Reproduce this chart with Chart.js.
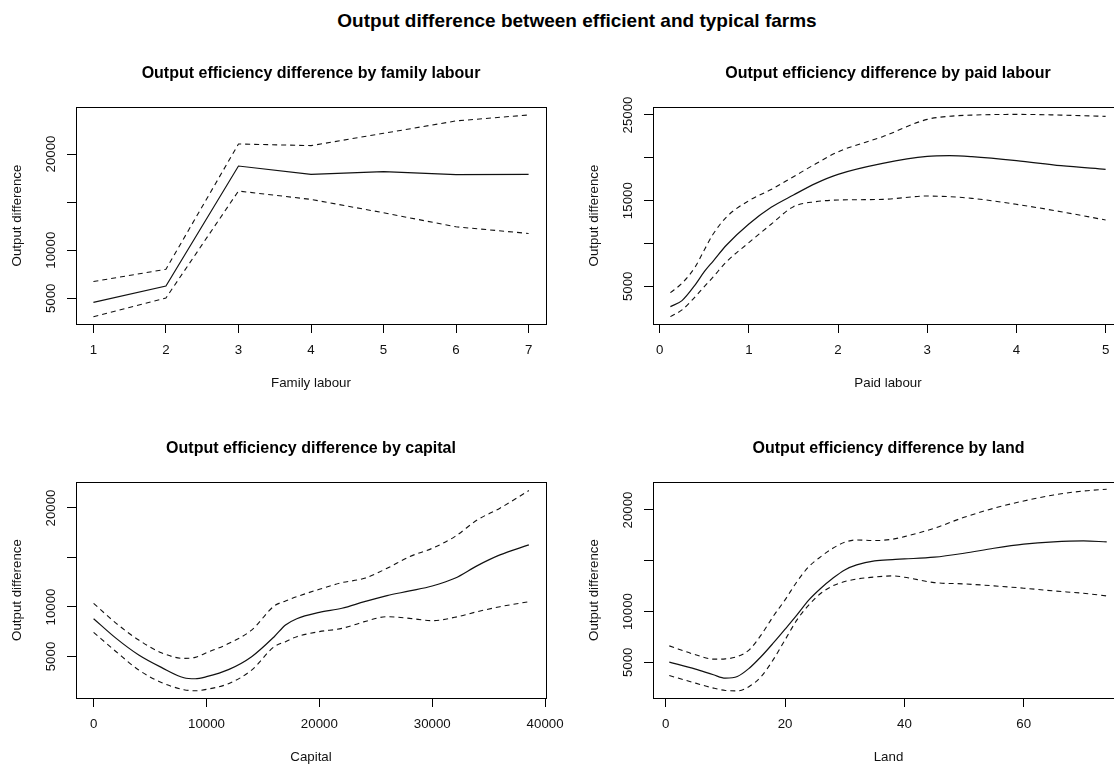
<!DOCTYPE html>
<html>
<head>
<meta charset="utf-8">
<script src="https://cdn.jsdelivr.net/npm/chart.js@4"></script>
<style>
	html, body { margin: 0; padding: 0; background: #fff; overflow: hidden; width: 1114px; height: 765px; }
	canvas { position: absolute; }
	#mainTitle {
		position: absolute; left: 577px; top: 10px; transform: translateX(-50%);
		font: bold 19px "Liberation Sans", Arial, sans-serif; white-space: nowrap; color: #000;
	}
</style>
</head>
<body>
<div id="mainTitle">Output difference between efficient and typical farms</div>
<canvas id="famChart"></canvas>
<canvas id="paidChart"></canvas>
<canvas id="capChart"></canvas>
<canvas id="landChart"></canvas>
<script>
// Family labour (observed at integer levels)
var familyX = [1, 2, 3, 4, 5, 6, 7];
var familyFit = [4580, 6280, 18750, 17880, 18160, 17850, 17880];
var familyUpper = [6740, 8020, 21040, 20870, 22150, 23440, 24060];
var familyLower = [3090, 5030, 16150, 15280, 13890, 12430, 11740];

// Paid labour
var paidX = [0.12, 0.25, 0.4, 0.5, 0.6, 0.75, 1.0, 1.25, 1.5, 1.75, 2.0, 2.5, 3.0, 3.25, 3.5, 4.0, 4.5, 5.0];
var paidFit = [2630, 3330, 5200, 6700, 7950, 9820, 12270, 14220, 15660, 17020, 18070, 19350, 20170, 20250, 20130, 19670, 19080, 18650];
var paidUpper = [4260, 5350, 7300, 9240, 11100, 13100, 15000, 16300, 17800, 19300, 20700, 22470, 24490, 24850, 24990, 25070, 24990, 24840];
var paidLower = [1460, 2240, 3800, 4960, 6100, 7880, 10100, 12250, 14300, 14880, 15075, 15150, 15540, 15460, 15270, 14570, 13710, 12740];

// Capital
var capX = [0, 2000, 4000, 6000, 8000, 9000, 10000, 12000, 14000, 16000, 17000, 18000, 20000, 22000, 24000, 26000, 28000, 30000, 32000, 34000, 36000, 38560];
var capFit = [8820, 6830, 5150, 3900, 2850, 2750, 2960, 3700, 4980, 7000, 8180, 8820, 9460, 9870, 10540, 11150, 11620, 12120, 12900, 14180, 15260, 16270];
var capUpper = [10370, 8350, 6660, 5380, 4810, 4910, 5380, 6330, 7670, 10100, 10600, 11040, 11790, 12460, 12900, 13910, 15090, 15930, 17110, 18800, 19980, 21760];
var capLower = [7440, 5480, 3630, 2380, 1650, 1540, 1680, 2280, 3630, 5990, 6500, 7000, 7510, 7840, 8520, 9020, 8850, 8620, 8960, 9530, 10030, 10540];

// Land
var landX = [0.6, 5, 8, 10, 12, 14, 16, 18, 20, 22, 24, 26, 28, 30, 32, 35, 38, 40, 45, 50, 55, 60, 65, 70, 73.9];
var landFit = [5014, 4330, 3770, 3440, 3600, 4420, 5570, 6880, 8260, 9670, 11150, 12300, 13280, 14100, 14590, 14990, 15120, 15180, 15350, 15740, 16230, 16630, 16860, 16950, 16860];
var landUpper = [6620, 5740, 5310, 5340, 5570, 6230, 7700, 9510, 11150, 12950, 14430, 15410, 16230, 16820, 17050, 16990, 17120, 17380, 18200, 19280, 20170, 20890, 21480, 21870, 22040];
var landLower = [3700, 2950, 2460, 2230, 2190, 2620, 3600, 5240, 7210, 9180, 10660, 11800, 12530, 12950, 13200, 13400, 13510, 13380, 12850, 12720, 12530, 12300, 12030, 11800, 11540];

// Axis ticks (empty label = tick mark only, as R dropped it)
var familyXTicks = [1, 2, 3, 4, 5, 6, 7];
var paidXTicks = [0, 1, 2, 3, 4, 5];
var capXTicks = [0, 10000, 20000, 30000, 40000];
var landXTicks = [0, 20, 40, 60];
var yTicks4 = [5000, 10000, 15000, 20000];
var yLabels4 = ["5000", "10000", "", "20000"];
var paidYTicks = [5000, 10000, 15000, 20000, 25000];
var paidYLabels = ["5000", "", "15000", "", "25000"];

var FONT = '"Liberation Sans", Arial, Helvetica, sans-serif';
var INK = "#111";

function toPoints(xs, ys) {
	return xs.map(function (x, i) { return { x: x, y: ys[i] }; });
}

// frame around plot region + rotated y tick labels (R style)
function framePlugin(yTicks, yLabels) {
	return {
		id: "rframe",
		afterDraw: function (chart) {
			var ctx = chart.ctx;
			var a = chart.chartArea;
			var ys = chart.scales.y;
			ctx.save();
			ctx.strokeStyle = "#000";
			ctx.lineWidth = 1;
			ctx.strokeRect(Math.round(a.left) + 0.5, Math.round(a.top) + 0.5,
				Math.round(a.right - a.left), Math.round(a.bottom - a.top));
			ctx.fillStyle = INK;
			ctx.font = "13.3px " + FONT;
			ctx.textAlign = "center";
			ctx.textBaseline = "middle";
			for (var i = 0; i < yTicks.length; i++) {
				if (!yLabels[i]) continue;
				var py = ys.getPixelForValue(yTicks[i]);
				ctx.save();
				ctx.translate(a.left - 25, py);
				ctx.rotate(-Math.PI / 2);
				ctx.fillText(yLabels[i], 0, 0);
				ctx.restore();
			}
			ctx.restore();
		},
	};
}

function makePanel(id, box, p) {
	var canvas = document.getElementById(id);
	canvas.width = box.r - box.l + 76 + 40;
	canvas.height = box.b - box.t + 53 + 67;
	canvas.style.left = (box.l - 76) + "px";
	canvas.style.top = (box.t - 53) + "px";

	var tickFont = { family: FONT, size: 13.3 };
	new Chart(canvas.getContext("2d"), {
		type: "line",
		data: {
			datasets: [
				{ data: toPoints(p.x, p.fit), borderColor: INK, borderWidth: 1.2 },
				{ data: toPoints(p.x, p.upper), borderColor: INK, borderWidth: 1.1, borderDash: [5, 4] },
				{ data: toPoints(p.x, p.lower), borderColor: INK, borderWidth: 1.1, borderDash: [5, 4] },
			],
		},
		options: {
			responsive: false,
			animation: false,
			devicePixelRatio: 1,
			layout: { padding: { left: 9, top: 10, right: 40, bottom: 0 } },
			elements: {
				point: { radius: 0 },
				line: { tension: p.smooth ? 0.4 : 0, cubicInterpolationMode: p.smooth ? "monotone" : "default" },
			},
			plugins: {
				legend: { display: false },
				tooltip: { enabled: false },
				title: {
					display: true,
					text: p.title,
					fullSize: false,
					color: "#000",
					font: { family: FONT, size: 16, weight: "bold", lineHeight: 1.25 },
					padding: { top: 0, bottom: 23 },
				},
			},
			scales: {
				x: {
					type: "linear",
					min: p.xMin,
					max: p.xMax,
					afterBuildTicks: function (s) { s.ticks = p.xTicks.map(function (v) { return { value: v }; }); },
					afterFit: function (s) { s.height = 67; },
					grid: { drawOnChartArea: false, drawTicks: true, tickLength: 9, color: "#000", lineWidth: 1 },
					border: { display: false },
					ticks: { padding: 9, color: INK, font: tickFont, maxRotation: 0, autoSkip: false,
						callback: function (v) { return String(v); } },
					title: { display: true, text: p.xTitle, color: INK, font: tickFont, padding: 0 },
				},
				y: {
					min: p.yMin,
					max: p.yMax,
					afterBuildTicks: function (s) { s.ticks = p.yTicks.map(function (v) { return { value: v }; }); },
					afterFit: function (s) { s.width = 67; },
					grid: { drawOnChartArea: false, drawTicks: true, tickLength: 9, color: "#000", lineWidth: 1 },
					border: { display: false },
					ticks: { display: false },
					title: { display: true, text: "Output difference", color: INK, font: tickFont, padding: 0 },
				},
			},
		},
		plugins: [framePlugin(p.yTicks, p.yLabels)],
	});
}

makePanel("famChart", { l: 76, t: 107, r: 546, b: 324 }, {
	title: "Output efficiency difference by family labour", xTitle: "Family labour",
	x: familyX, fit: familyFit, upper: familyUpper, lower: familyLower, smooth: false,
	xMin: 0.76, xMax: 7.24, yMin: 2328, yMax: 24886,
	xTicks: familyXTicks, yTicks: yTicks4, yLabels: yLabels4,
});

makePanel("paidChart", { l: 653, t: 107, r: 1123, b: 324 }, {
	title: "Output efficiency difference by paid labour", xTitle: "Paid labour",
	x: paidX, fit: paidFit, upper: paidUpper, lower: paidLower, smooth: true,
	xMin: -0.075, xMax: 5.195, yMin: 598, yMax: 25934,
	xTicks: paidXTicks, yTicks: paidYTicks, yLabels: paidYLabels,
});

makePanel("capChart", { l: 76, t: 482, r: 546, b: 698 }, {
	title: "Output efficiency difference by capital", xTitle: "Capital",
	x: capX, fit: capFit, upper: capUpper, lower: capLower, smooth: true,
	xMin: -1560, xMax: 40080, yMin: 808, yMax: 22626,
	xTicks: capXTicks, yTicks: yTicks4, yLabels: yLabels4,
});

makePanel("landChart", { l: 653, t: 482, r: 1124, b: 698 }, {
	title: "Output efficiency difference by land", xTitle: "Land",
	x: landX, fit: landFit, upper: landUpper, lower: landLower, smooth: true,
	xMin: -2.13, xMax: 76.8, yMin: 1485, yMax: 22757,
	xTicks: landXTicks, yTicks: yTicks4, yLabels: yLabels4,
});
</script>
</body>
</html>
